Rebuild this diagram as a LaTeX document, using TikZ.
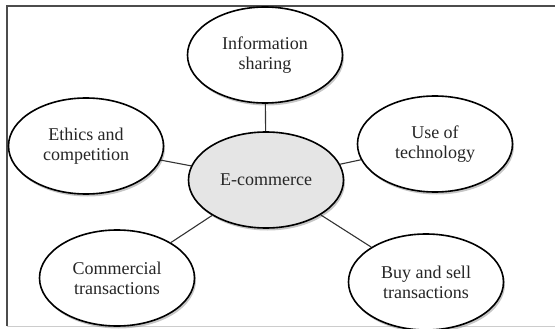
\documentclass[tikz,border=0pt]{standalone}
\usepackage{fontspec}
\setmainfont{Liberation Serif}
\usepackage{tikz}
\usetikzlibrary{shapes.geometric,shadows}

\tikzset{
    topic/.style={ellipse,draw=black,line width=1.6pt,fill=white,
        minimum width=155pt,minimum height=96pt,inner sep=0pt,align=center,
        text=black!85,font=\fontsize{18}{20}\selectfont,
        drop shadow={shadow xshift=1.5pt,shadow yshift=-2.5pt,opacity=0.45}},
    hub/.style={topic,fill=black!10},
    link/.style={draw=black!80,line width=1.1pt}
}

\begin{document}
\begin{tikzpicture}[x=1pt,y=-1pt]
            \useasboundingbox (0,0) rectangle (555,329);

            % frame
            \draw[black!70,line width=1.4pt] (7,326) -- (7,6) -- (555,6);
            \draw[black!20,line width=1pt] (7,326) -- (555,326);

            % nodes
            \node[hub] (ecom) at (266,180) {E-commerce};
            \node[topic] (info) at (265,55) {Information\\sharing};
            \node[topic] (ethics) at (86,146) {Ethics and\\competition};
            \node[topic] (tech) at (435,144) {Use of\\technology};
            \node[topic] (comm) at (117,278) {Commercial\\transactions};
            \node[topic] (buy) at (426,282) {Buy and sell\\transactions};

            % links
            \foreach \t in {info,ethics,tech,comm,buy}
            \draw[link] (ecom) -- (\t);
        \end{tikzpicture}
\end{document}
